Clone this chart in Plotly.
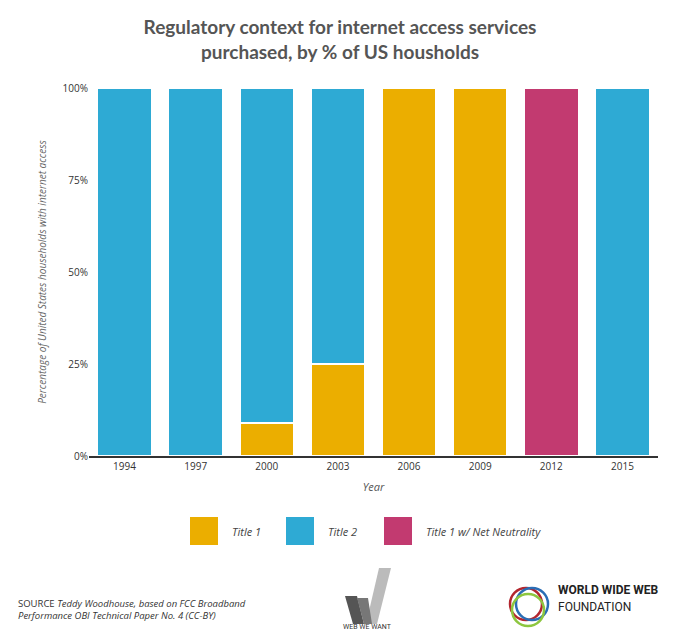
import plotly.graph_objects as go

years = ["1994", "1997", "2000", "2003", "2006", "2009", "2012", "2015"]
title1 = [0, 0, 9, 25, 100, 100, 0, 0]
title2 = [100, 100, 91, 75, 0, 0, 0, 100]
title1_nn = [0, 0, 0, 0, 0, 0, 100, 0]
series = [("Title 1", title1, "#EBAE00"), ("Title 2", title2, "#2EAAD4"),
          ("Title 1 w/ Net Neutrality", title1_nn, "#C23A70")]

fig = go.Figure()
for name, vals, col in series:
    fig.add_bar(x=years, y=vals, name=name, marker=dict(color=col, line=dict(color="white", width=1.5)))

W, H = 680, 641
OFF = 8
L, R, T, B = 81, 650, 80, 448
def px(x): return (x - OFF - L) / (R - L)
def py(y): return (B - (y - OFF)) / (B - T)

shapes = []
ann = []
for (name, vals, col), lx in zip(series, [190, 286, 384]):
    shapes.append(dict(type="rect", xref="paper", yref="paper", x0=px(lx), x1=px(lx+28),
                       y0=py(545), y1=py(517), fillcolor=col, line=dict(width=0), layer="above"))
    ann.append(dict(xref="paper", yref="paper", x=px(lx+40), y=py(531), text="<i>" + name + "</i>", showarrow=False,
                    xanchor="left", font=dict(size=11, color="#444", family="Open Sans"), yanchor="middle"))
ann.append(dict(xref="paper", yref="paper", x=px(16), y=py(609), showarrow=False, xanchor="left", align="left",
                yanchor="middle",
                text="SOURCE <i>Teddy Woodhouse, based on FCC Broadband</i><br><i>Performance OBI Technical Paper No. 4 (CC-BY)</i>",
                font=dict(size=9.5, color="#333", family="Open Sans")))
shapes.append(dict(type="path", xref="paper", yref="paper",
                   path=f"M {px(345)} {py(596)} L {px(357)} {py(596)} L {px(364)} {py(624)} L {px(353)} {py(624)} Z",
                   fillcolor="#555", line=dict(width=0)))
shapes.append(dict(type="path", xref="paper", yref="paper",
                   path=f"M {px(379)} {py(568)} L {px(391)} {py(568)} L {px(377)} {py(624)} L {px(366)} {py(624)} Z",
                   fillcolor="#bbb", line=dict(width=0)))
shapes.append(dict(type="path", xref="paper", yref="paper",
                   path=f"M {px(357)} {py(598)} L {px(368)} {py(598)} L {px(372)} {py(624)} L {px(364)} {py(624)} Z",
                   fillcolor="#777", line=dict(width=0)))
ann.append(dict(xref="paper", yref="paper", x=px(367), y=py(633), text="WEB WE WANT", showarrow=False,
                font=dict(size=7, color="#333", family="Roboto")))
for cx, cy, col in [(526, 604, "#B3262E"), (532, 604, "#2A6DB5"), (528, 610, "#8DC63F")]:
    shapes.append(dict(type="circle", xref="paper", yref="paper", x0=px(cx-16), x1=px(cx+16),
                       y0=py(cy+16), y1=py(cy-16), line=dict(color=col, width=2.5)))
ann.append(dict(xref="paper", yref="paper", x=px(556), y=py(599), text="<b>WORLD WIDE WEB</b>", showarrow=False,
                xanchor="left", font=dict(size=12, color="#222", family="Roboto")))
ann.append(dict(xref="paper", yref="paper", x=px(556), y=py(616), text="FOUNDATION", showarrow=False,
                xanchor="left", font=dict(size=12, color="#222", family="Roboto")))

fig.update_layout(
    width=W, height=H, barmode="stack", bargap=0.24, showlegend=False,
    plot_bgcolor="white", paper_bgcolor="white",
    margin=dict(l=L, r=W - R, t=T, b=H - B),
    title=dict(text="<b>Regulatory context for internet access services<br>purchased, by % of US housholds</b>",
               x=(340 - OFF) / W, xanchor="center", y=1 - (34 - OFF) / H, yanchor="middle",
               font=dict(size=19, color="#555", family="Lato")),
    xaxis=dict(title=dict(text="<i>Year</i>", font=dict(size=11, color="#555"), standoff=12),
               tickfont=dict(size=10, color="#333", family="Open Sans"), showline=True,
               linecolor="#333", linewidth=1.5, ticks=""),
    yaxis=dict(range=[0, 100], tickvals=[0, 25, 50, 75, 100], ticktext=["0%", "25%", "50%", "75%", "100%"],
               tickfont=dict(size=10, color="#333", family="Open Sans"), showgrid=False, zeroline=False,
               title=dict(text="<i>Percentage of United States households with internet access</i>",
                          font=dict(size=10, color="#666"), standoff=14)),
    shapes=shapes, annotations=ann,
)
fig.write_html("out.html")
